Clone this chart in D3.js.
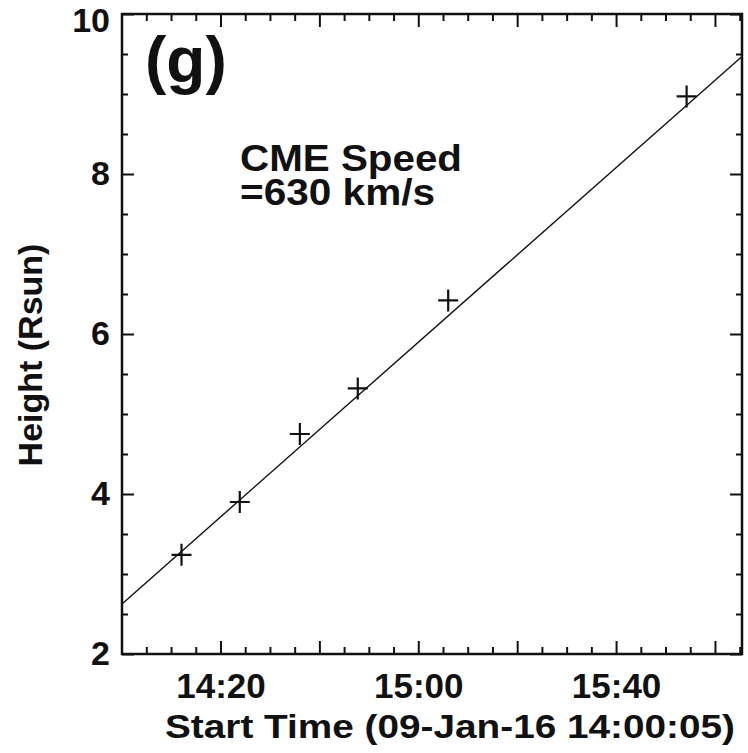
<!DOCTYPE html>
<html>
<head>
<meta charset="utf-8">
<script src="https://d3js.org/d3.v7.min.js"></script>
<style>
  body { margin: 0; background: #fff; }
  svg text { font-family: "Liberation Sans", Arial, sans-serif; font-weight: bold; fill: #111; }
</style>
</head>
<body>
<script>
// seconds after 09-Jan-16 14:00:05
var times = [722, 1429, 2158, 2861, 3958, 6851];
var heights = [3.24, 3.90, 4.75, 5.32, 6.42, 8.97];
// linear fit end points (630 km/s)
var fitTimes = [0, 7523];
var fitHeights = [2.625, 9.47];

var yTicks = [2, 4, 6, 8, 10];
var xMajor = [1195, 2395, 3595, 4795, 5995, 7195];   // 14:20 ... 16:00
var xLabels = {1195: "14:20", 3595: "15:00", 5995: "15:40"};

var width = 748, height = 753;
var margin = {top: 14, right: 6, bottom: 99, left: 122};
var w = width - margin.left - margin.right;
var h = height - margin.top - margin.bottom;

var svg = d3.select("body").append("svg")
  .attr("width", width)
  .attr("height", height);

var g = svg.append("g")
  .attr("transform", "translate(" + margin.left + "," + margin.top + ")");

var x = d3.scaleLinear().domain([0, 7523]).range([0, w]);
var y = d3.scaleLinear().domain([2, 10]).range([h, 0]);

var xMinor = d3.range(-5, 126, 5).map(function(m) { return 295 + m * 60; })
  .filter(function(s) { return s > 0 && s < 7523 && xMajor.indexOf(s) < 0; });
var yMinor = d3.range(2.5, 10, 0.5).filter(function(v) { return yTicks.indexOf(v) < 0; });

function styleAxis(sel) {
  sel.select(".domain").remove();
  sel.selectAll("line").attr("stroke", "#111").attr("stroke-width", 2);
}

// minor ticks
g.append("g").attr("transform", "translate(0," + h + ")")
  .call(d3.axisBottom(x).tickValues(xMinor).tickSize(-7).tickFormat(""))
  .call(styleAxis);
g.append("g")
  .call(d3.axisTop(x).tickValues(xMinor).tickSize(-7).tickFormat(""))
  .call(styleAxis);
g.append("g")
  .call(d3.axisLeft(y).tickValues(yMinor).tickSize(-6).tickFormat(""))
  .call(styleAxis);
g.append("g").attr("transform", "translate(" + w + ",0)")
  .call(d3.axisRight(y).tickValues(yMinor).tickSize(-6).tickFormat(""))
  .call(styleAxis);

// major ticks
var xb = g.append("g").attr("transform", "translate(0," + h + ")")
  .call(d3.axisBottom(x).tickValues(xMajor).tickSize(-13).tickPadding(19)
    .tickFormat(function(d) { return xLabels[d] || ""; }))
  .call(styleAxis);
xb.selectAll("text").style("font-size", "35px");
g.append("g")
  .call(d3.axisTop(x).tickValues(xMajor).tickSize(-13).tickFormat(""))
  .call(styleAxis);
var yl = g.append("g")
  .call(d3.axisLeft(y).tickValues(yTicks).tickSize(-12).tickPadding(12).tickFormat(d3.format("d")))
  .call(styleAxis);
yl.selectAll("text").style("font-size", "34px")
  .attr("dy", function(d) { return d === 10 ? "0.5em" : "0.32em"; });
g.append("g").attr("transform", "translate(" + w + ",0)")
  .call(d3.axisRight(y).tickValues(yTicks).tickSize(-12).tickFormat(""))
  .call(styleAxis);

// frame
g.append("rect")
  .attr("width", w).attr("height", h)
  .attr("fill", "none").attr("stroke", "#111").attr("stroke-width", 2.5);

// fit line
var line = d3.line().x(function(d) { return x(d[0]); }).y(function(d) { return y(d[1]); });
g.append("path")
  .datum(d3.zip(fitTimes, fitHeights))
  .attr("d", line)
  .attr("fill", "none").attr("stroke", "#111").attr("stroke-width", 1.4);

// data crosses
g.selectAll(".pt")
  .data(d3.zip(times, heights))
  .enter().append("path")
  .attr("class", "pt")
  .attr("d", function(d) {
    var px = x(d[0]), py = y(d[1]);
    return "M" + (px - 10) + "," + py + "H" + (px + 10) + "M" + px + "," + (py - 11) + "V" + (py + 11);
  })
  .attr("stroke", "#111").attr("stroke-width", 2.2);

// labels
g.append("text")
  .attr("x", 23).attr("y", 68)
  .style("font-size", "64px")
  .text("(g)");
g.append("text")
  .attr("x", 118).attr("y", 157)
  .attr("textLength", 222).attr("lengthAdjust", "spacingAndGlyphs")
  .style("font-size", "37px")
  .text("CME Speed");
g.append("text")
  .attr("x", 118).attr("y", 191)
  .attr("textLength", 195).attr("lengthAdjust", "spacingAndGlyphs")
  .style("font-size", "37px")
  .text("=630 km/s");

svg.append("text")
  .attr("x", 450).attr("y", 738)
  .attr("text-anchor", "middle")
  .attr("textLength", 570).attr("lengthAdjust", "spacingAndGlyphs")
  .style("font-size", "34px")
  .text("Start Time (09-Jan-16 14:00:05)");
svg.append("text")
  .attr("transform", "translate(42,355) rotate(-90)")
  .attr("text-anchor", "middle")
  .style("font-size", "34px")
  .text("Height (Rsun)");
</script>
</body>
</html>
